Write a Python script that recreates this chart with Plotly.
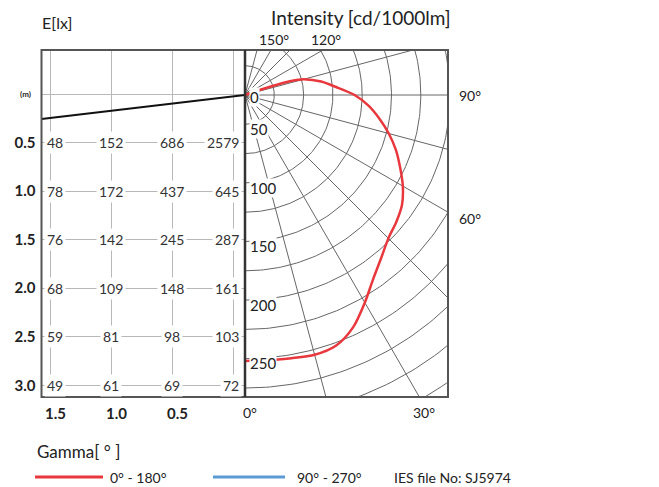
import numpy as np
import plotly.graph_objects as go

# ---------------- data ----------------
distance_m = [0.5, 1.0, 1.5, 2.0, 2.5, 3.0]          # rows of the E[lx] table
lateral_m = [1.5, 1.0, 0.5, 0.0]                     # columns of the E[lx] table
illuminance_lx = [
    [48, 152, 686, 2579],
    [78, 172, 437, 645],
    [76, 142, 245, 287],
    [68, 109, 148, 161],
    [59, 81, 98, 103],
    [49, 61, 69, 72],
]
distance_labels = ["0.5", "1.0", "1.5", "2.0", "2.5", "3.0"]
lateral_labels = ["1.5", "1.0", "0.5", ""]

gamma_deg = [0, 5, 10, 15, 20, 25, 30, 35, 40, 45, 50, 55, 60, 65, 70, 75,
             80, 85, 90, 95, 100, 105, 106, 107, 108, 109, 110]
intensity_0_180 = [227, 227, 228, 229.5, 227.5, 218.5, 204.5, 191, 181, 173,
                   168.5, 163.5, 155.5, 146, 137, 127, 116.5, 106, 93.5, 78,
                   66, 52, 47, 40, 24, 8.5, 0]
radial_ticks = [0, 50, 100, 150, 200, 250]
angle_ticks = [0, 30, 60, 90, 120, 150]
ring_step = 25
spoke_step = 15
beam_tilt_deg = 6.7
series_names = ["0° - 180°", "90° - 270°"]
series_colors = ["#e8383d", "#5b9bd5"]
ies_file_no = "SJ5974"

# ---------------- geometry (pixels) ----------------
W, H = 659, 487
L, M, R, T, B = 41.5, 245, 448, 50, 397     # panel box edges
OY = 95                                      # polar origin (y px)
LX0, LXS = 233, 122                          # left panel: px of lateral 0, px per m
LY0, LYS = 94, 97.1                          # left panel: px of distance 0, px per m
S = 1.172                                    # right panel: px per cd/klm
FONT = "Lato, 'Open Sans', sans-serif"
TXT = "#222222"


def fx(p):
    return p / W


def fy(p):
    return 1 - p / H


fig = go.Figure()

# ---- left panel: tilt line ----
x_right = (LX0 - M) / LXS
x_left = (LX0 - L) / LXS
y_start = (OY - LY0) / LYS
y_end = (OY + (M - L) * np.tan(np.radians(beam_tilt_deg)) - LY0) / LYS
fig.add_trace(go.Scatter(x=[x_right, x_left], y=[y_start, y_end], mode="lines",
                         line=dict(color="#111111", width=2), xaxis="x", yaxis="y",
                         hoverinfo="skip"))

# ---- right panel: polar grid ----
g = np.radians(np.arange(0, 181, 1))
ring_x, ring_y = [], []
for r in np.arange(ring_step, 16 * ring_step, ring_step):
    ring_x += list(r * np.sin(g)) + [None]
    ring_y += list(-r * np.cos(g)) + [None]
fig.add_trace(go.Scatter(x=ring_x, y=ring_y, mode="lines",
                         line=dict(color="#666666", width=1),
                         xaxis="x2", yaxis="y2", hoverinfo="skip"))
sp_x, sp_y = [], []
for a in range(0, 181, spoke_step):
    t = np.radians(a)
    sp_x += [0, 500 * np.sin(t), None]
    sp_y += [0, -500 * np.cos(t), None]
fig.add_trace(go.Scatter(x=sp_x, y=sp_y, mode="lines",
                         line=dict(color="#666666", width=1),
                         xaxis="x2", yaxis="y2", hoverinfo="skip"))

# ---- intensity curve ----
gr = np.radians(gamma_deg)
I = np.array(intensity_0_180, dtype=float)
fig.add_trace(go.Scatter(x=I * np.sin(gr), y=-I * np.cos(gr), mode="lines",
                         line=dict(color=series_colors[0], width=2.5, shape="spline", smoothing=0.8),
                         xaxis="x2", yaxis="y2", name=series_names[0], hoverinfo="skip"))

ann = []
# ---- table numbers ----
for i, d in enumerate(distance_m):
    for j, lat in enumerate(lateral_m):
        if j == 0:
            xa, xs = "left", -(LX0 - lat * LXS - L) + 2.5
        elif j == len(lateral_m) - 1:
            xa, xs = "right", (M - (LX0 - lat * LXS)) - 3.5
        else:
            xa, xs = "center", 0
        ann.append(dict(x=lat, y=d, xref="x", yref="y", text=str(illuminance_lx[i][j]),
                        xanchor=xa, xshift=xs, yanchor="middle", showarrow=False,
                        bgcolor="white", borderpad=2,
                        font=dict(family=FONT, size=14, color="#333333")))

# ---- lateral (x) tick labels of the left panel ----
y_bottom = (B - LY0) / LYS
for lat, txt in zip(lateral_m, lateral_labels):
    if txt:
        ann.append(dict(x=lat, y=y_bottom, xref="x", yref="y", text=f"<b>{txt}</b>",
                        xanchor="center", yanchor="top", xshift=5, yshift=-5, showarrow=False,
                        font=dict(family=FONT, size=15, color=TXT)))

# ---- radial tick labels ----
for v in radial_ticks:
    rr = max(v - 21, 0)
    ann.append(dict(x=0, y=-rr, xref="x2", yref="y2", text=str(v), xanchor="left", xshift=4,
                    yshift=-2 if v == 0 else 0, yanchor="middle", showarrow=False,
                    bgcolor="white", borderpad=0,
                    font=dict(family=FONT, size=15, color=TXT)))

# ---- angle labels around the box ----
xmax, ymin, ymax = (R - M) / S, -(B - OY) / S, (OY - T) / S
for a in angle_ticks:
    t = np.radians(a)
    dx, dy = np.sin(t), -np.cos(t)
    cands = []
    if dx > 1e-9:
        cands.append((xmax / dx, "right"))
    if dy < -1e-9:
        cands.append((ymin / dy, "bottom"))
    if dy > 1e-9:
        cands.append((ymax / dy, "top"))
    k, side = min(cands)
    px_, py_ = k * dx, k * dy
    if side == "bottom":
        d = dict(xanchor="center", yanchor="top", xshift=5, yshift=-5)
    elif side == "right":
        d = dict(xanchor="left", yanchor="middle", xshift=9, yshift=-1 if a == 90 else -6)
    else:
        d = dict(xanchor="center", yanchor="bottom", xshift=3, yshift=0)
    ann.append(dict(x=px_, y=py_, xref="x2", yref="y2", text=f"{a}°", showarrow=False,
                    font=dict(family=FONT, size=14, color=TXT), **d))

# ---- titles ----
ann.append(dict(x=fx(57), y=fy(22), xref="paper", yref="paper", text="E[lx]", showarrow=False,
                xanchor="center", yanchor="middle", font=dict(family=FONT, size=16, color=TXT)))
ann.append(dict(x=fx(361), y=fy(18), xref="paper", yref="paper", text="Intensity [cd/1000lm]",
                showarrow=False, xanchor="center", yanchor="middle",
                font=dict(family=FONT, size=19, color=TXT)))
ann.append(dict(x=fx(25), y=0, xref="paper", yref="y", text="<b>(m)</b>", showarrow=False,
                xanchor="center", yanchor="middle", font=dict(family=FONT, size=8, color=TXT)))

# ---- legend ----
ann.append(dict(x=fx(35), y=fy(451), xref="paper", yref="paper", text="Gamma[ ° ]", showarrow=False,
                xanchor="left", yanchor="middle", font=dict(family=FONT, size=17, color=TXT)))
leg_x = [(35, 103, 108), (213, 285, 295)]
shapes = []
for (x0, x1, xt), name, col in zip(leg_x, series_names, series_colors):
    shapes.append(dict(type="line", xref="paper", yref="paper", x0=fx(x0), x1=fx(x1),
                       y0=fy(477), y1=fy(477), line=dict(color=col, width=3)))
    ann.append(dict(x=fx(xt), y=fy(477), xref="paper", yref="paper", text=name, showarrow=False,
                    xanchor="left", yanchor="middle", font=dict(family=FONT, size=14, color=TXT)))
ann.append(dict(x=fx(392), y=fy(477), xref="paper", yref="paper", text=f"IES file No: {ies_file_no}",
                showarrow=False, xanchor="left", yanchor="middle",
                font=dict(family=FONT, size=14, color=TXT)))

# ---- frames ----
shapes.append(dict(type="rect", xref="paper", yref="paper", x0=fx(L), x1=fx(R), y0=fy(B), y1=fy(T),
                   line=dict(color="#555555", width=2), layer="above"))
shapes.append(dict(type="line", xref="paper", yref="paper", x0=fx(M), x1=fx(M), y0=fy(B), y1=fy(T),
                   line=dict(color="#333333", width=2.5), layer="above"))

fig.update_layout(
    width=W, height=H, margin=dict(l=0, r=0, t=0, b=0, autoexpand=False),
    paper_bgcolor="white", plot_bgcolor="white", showlegend=False,
    font=dict(family=FONT, color=TXT, size=14),
    annotations=ann, shapes=shapes,
    xaxis=dict(domain=[fx(L), fx(M)], range=[x_left, x_right], anchor="y",
               tickvals=lateral_m, showticklabels=False, ticks="",
               showgrid=True, gridcolor="#b8b8b8", gridwidth=1, zeroline=False, showline=False,
               fixedrange=True),
    yaxis=dict(domain=[fy(B), fy(T)], range=[y_bottom, (T - LY0) / LYS], anchor="x",
               tickvals=[0] + distance_m, ticktext=[""] + distance_labels, ticks="",
               showgrid=True, gridcolor="#b8b8b8", gridwidth=1, zeroline=False, showline=False,
               ticklabelstandoff=5,
               tickfont=dict(family=FONT, size=15, color=TXT, weight="bold"), fixedrange=True),
    xaxis2=dict(domain=[fx(M), fx(R)], range=[0, xmax], anchor="y2", visible=False, fixedrange=True),
    yaxis2=dict(domain=[fy(B), fy(T)], range=[ymin, ymax], anchor="x2", visible=False, fixedrange=True),
)

fig.write_html("out.html", config={"displayModeBar": False},
               post_script="document.body.style.margin='0px';")
